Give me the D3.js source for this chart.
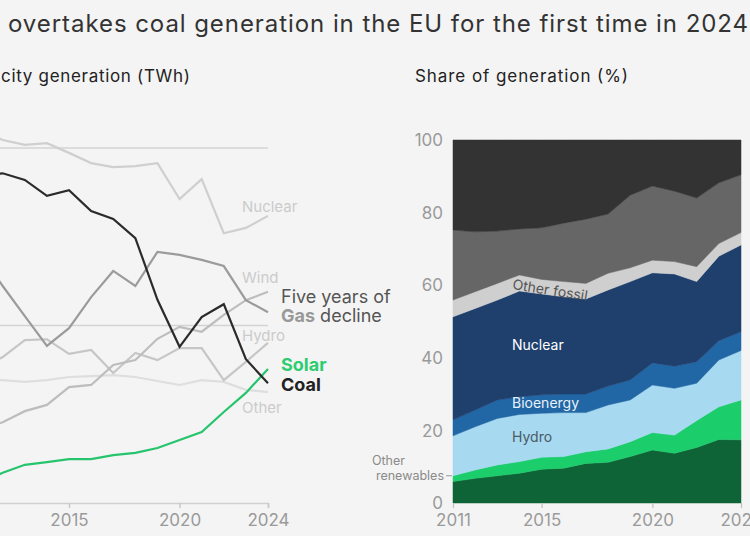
<!DOCTYPE html>
<html>
<head>
<meta charset="utf-8">
<script src="https://cdn.jsdelivr.net/npm/d3@7"></script>
<style>
  html, body { margin: 0; padding: 0; background: #f4f4f4; overflow: hidden; }
  svg { display: block; font-family: Inter, "Noto Sans", sans-serif; }
</style>
</head>
<body>
<svg id="chart" width="750" height="536"></svg>
<script>
// ---------- DATA ----------
const years = [2011, 2012, 2013, 2014, 2015, 2016, 2017, 2018, 2019, 2020, 2021, 2022, 2023, 2024];

// Electricity generation (TWh)
const nuclearTWh = [840, 818, 807, 811, 789, 766, 757, 759, 766, 685, 730, 608, 620, 647];
const coalTWh    = [735, 743, 728, 692, 705, 658, 640, 597, 458, 352, 419, 448, 324, 270];
const gasTWh     = [560, 489, 421, 354, 394, 464, 523, 489, 566, 559, 548, 534, 457, 430];
const windTWh    = [165, 182, 207, 221, 261, 266, 311, 322, 370, 397, 386, 424, 457, 476];
const hydroTWh   = [300, 329, 367, 369, 336, 345, 293, 338, 322, 349, 349, 277, 318, 361];
const otherTWh   = [275, 277, 273, 277, 284, 286, 288, 284, 275, 266, 277, 273, 255, 250];
const solarTWh   = [45, 68, 86, 92, 99, 99, 108, 113, 124, 142, 160, 205, 248, 302];

// Share of generation (%)
const windShare        = [5.9, 6.8, 7.5, 8.2, 9.3, 9.6, 10.9, 11.2, 12.8, 14.6, 13.7, 15.3, 17.5, 17.4];
const solarShare       = [1.6, 2.3, 3.0, 3.2, 3.3, 3.2, 3.2, 3.7, 4.1, 4.8, 5.0, 7.4, 9.0, 11.0];
const hydroShare       = [11.0, 11.9, 12.8, 13.0, 12.1, 12.1, 10.8, 12.1, 11.5, 13.1, 12.9, 10.3, 12.9, 13.6];
const bioShare         = [4.4, 4.6, 5.1, 4.9, 5.1, 5.1, 5.1, 5.2, 5.5, 6.1, 6.1, 5.9, 5.3, 5.2];
const nuclearShare     = [28.4, 28.0, 27.5, 29.1, 27.8, 26.8, 26.2, 26.5, 27.1, 24.8, 25.4, 22.1, 23.3, 23.9];
const otherFossilShare = [4.6, 4.6, 4.6, 4.4, 4.0, 4.2, 4.3, 4.6, 3.8, 3.5, 3.4, 4.1, 3.5, 3.4];
const gasShare         = [19.3, 16.5, 14.4, 12.7, 14.2, 16.1, 17.7, 16.3, 20.0, 20.4, 19.4, 18.9, 16.7, 15.9];
const coalShare        = [24.8, 25.3, 25.1, 24.5, 24.2, 22.9, 21.8, 20.4, 15.2, 12.7, 14.1, 16.0, 11.8, 9.6];

const leftTicks = [2011, 2015, 2020, 2024];
const leftGrid = [400, 800];
const rightYTicks = [0, 20, 40, 60, 80, 100];

const titleHidden = "Solar";
const titleVisible = "overtakes coal generation in the EU for the first time in 2024";
const leftSubHidden = "Electri";
const leftSubVisible = "city generation (TWh)";
const rightSubtitle = "Share of generation (%)";

// ---------- SETUP ----------
const svg = d3.select("#chart");

// Title (its first word falls outside the frame)
svg.append("text")
  .attr("x", 0).attr("y", 32).attr("text-anchor", "end")
  .attr("font-size", 24).attr("fill", "#333")
  .text(titleHidden);
svg.append("text")
  .attr("x", 8).attr("y", 32)
  .attr("font-size", 24).attr("fill", "#333")
  .attr("textLength", 740).attr("lengthAdjust", "spacing")
  .text(titleVisible);

// Subtitles
svg.append("text")
  .attr("x", 0).attr("y", 82).attr("text-anchor", "end")
  .attr("font-size", 17).attr("fill", "#222")
  .text(leftSubHidden);
svg.append("text")
  .attr("x", 1).attr("y", 82)
  .attr("font-size", 17).attr("fill", "#222")
  .attr("textLength", 189).attr("lengthAdjust", "spacing")
  .text(leftSubVisible);

svg.append("text")
  .attr("x", 415).attr("y", 82)
  .attr("font-size", 17).attr("fill", "#222")
  .attr("textLength", 213).attr("lengthAdjust", "spacing")
  .text(rightSubtitle);

// ---------- LEFT CHART ----------
const xL = d3.scaleLinear().domain([2011, 2024]).range([-19.4, 268]);
const yL = d3.scaleLinear().domain([0, 800]).range([503, 148]);

const gL = svg.append("g");

gL.selectAll(".grid").data(leftGrid).join("line")
  .attr("x1", xL(2011)).attr("x2", xL(2024))
  .attr("y1", d => yL(d)).attr("y2", d => yL(d))
  .attr("stroke", "#d4d4d4").attr("stroke-width", 1.5);

const axL = d3.axisBottom(xL).tickValues(leftTicks).tickFormat(d3.format("d")).tickSize(5).tickPadding(6);
const axLg = gL.append("g").attr("transform", `translate(0,${yL(0)})`).call(axL);
axLg.select(".domain").attr("stroke", "#d0d0d0").attr("stroke-width", 1.5);
axLg.selectAll(".tick line").attr("stroke", "#c8c8c8").attr("stroke-width", 1.5);
axLg.selectAll(".tick text").attr("fill", "#9a9a9a").attr("font-size", 17).attr("font-family", "Inter, sans-serif");

const lineSeries = [
  { name: "Other", values: otherTWh, color: "#dedede" },
  { name: "Nuclear", values: nuclearTWh, color: "#cfcfcf" },
  { name: "Hydro", values: hydroTWh, color: "#c6c6c6" },
  { name: "Wind", values: windTWh, color: "#bdbdbd" },
  { name: "Gas", values: gasTWh, color: "#9b9b9b" },
  { name: "Solar", values: solarTWh, color: "#27c46e" },
  { name: "Coal", values: coalTWh, color: "#2b2b2b" }
];

const line = d3.line().x((d, i) => xL(years[i])).y(d => yL(d));

gL.selectAll(".series").data(lineSeries).join("path")
  .attr("d", d => line(d.values))
  .attr("fill", "none")
  .attr("stroke", d => d.color)
  .attr("stroke-width", 2.2)
  .attr("stroke-linejoin", "miter");

const lightLabels = [
  { text: "Nuclear", x: 242, y: 212 },
  { text: "Wind", x: 242, y: 283 },
  { text: "Hydro", x: 242, y: 341 },
  { text: "Other", x: 242, y: 413 }
];
gL.selectAll(".lbl").data(lightLabels).join("text")
  .attr("x", d => d.x).attr("y", d => d.y)
  .attr("font-size", 15).attr("fill", "#cbcbcb")
  .text(d => d.text);

gL.append("text").attr("x", 281).attr("y", 303)
  .attr("font-size", 18).attr("fill", "#555").text("Five years of");
const gasT = gL.append("text").attr("x", 281).attr("y", 322).attr("font-size", 18);
gasT.append("tspan").attr("font-weight", 700).attr("fill", "#999").text("Gas");
gasT.append("tspan").attr("fill", "#555").text(" decline");

gL.append("text").attr("x", 281).attr("y", 371)
  .attr("font-size", 18).attr("font-weight", 700).attr("fill", "#2ecc71").text("Solar");
gL.append("text").attr("x", 281).attr("y", 391)
  .attr("font-size", 18).attr("font-weight", 700).attr("fill", "#222").text("Coal");

// ---------- RIGHT CHART ----------
const xR = d3.scaleLinear().domain([2011, 2024]).range([453, 741]);
const yR = d3.scaleLinear().domain([0, 100]).range([503, 140]);

const keys = ["wind", "solar", "hydro", "bio", "nuclear", "otherFossil", "gas", "coal"];
const colors = {
  wind: "#0e6436",
  solar: "#1ccd6c",
  hydro: "#a7d9f1",
  bio: "#2166a5",
  nuclear: "#1f3f6d",
  otherFossil: "#cfcfcf",
  gas: "#666666",
  coal: "#333333"
};
const shareTable = years.map((y, i) => ({
  year: y,
  wind: windShare[i], solar: solarShare[i], hydro: hydroShare[i], bio: bioShare[i],
  nuclear: nuclearShare[i], otherFossil: otherFossilShare[i], gas: gasShare[i], coal: coalShare[i]
}));
const stacked = d3.stack().keys(keys)(shareTable);

const area = d3.area()
  .x(d => xR(d.data.year))
  .y0(d => yR(d[0]))
  .y1(d => yR(d[1]));

const gR = svg.append("g");
gR.selectAll(".layer").data(stacked).join("path")
  .attr("d", area)
  .attr("fill", d => colors[d.key])
  .attr("stroke", d => colors[d.key])
  .attr("stroke-width", 0.5);

gR.selectAll(".ylab").data(rightYTicks).join("text")
  .attr("x", 443).attr("y", d => yR(d)).attr("dy", "0.36em")
  .attr("text-anchor", "end")
  .attr("font-size", 17).attr("fill", "#9a9a9a")
  .text(d => d);

const axR = d3.axisBottom(xR).tickValues(leftTicks).tickFormat(d3.format("d")).tickSize(5).tickPadding(6);
const axRg = gR.append("g").attr("transform", `translate(0,${yR(0)})`).call(axR);
axRg.select(".domain").remove();
axRg.selectAll(".tick line").attr("stroke", "#c0c0c0").attr("stroke-width", 1.2);
axRg.selectAll(".tick text").attr("fill", "#9a9a9a").attr("font-size", 17).attr("font-family", "Inter, sans-serif");

gR.append("text").attr("x", 512).attr("y", 350).attr("font-size", 14).attr("fill", "#ffffff").text("Nuclear");
gR.append("text").attr("x", 512).attr("y", 408).attr("font-size", 14).attr("fill", "#e8f2fa").text("Bioenergy");
gR.append("text").attr("x", 512).attr("y", 442).attr("font-size", 14).attr("fill", "#4a5a66").text("Hydro");
gR.append("text").attr("x", 512).attr("y", 289).attr("font-size", 14).attr("fill", "#555")
  .attr("transform", "rotate(9,512,289)").text("Other fossil");

const orY = yR(windShare[0] + solarShare[0]);
gR.append("line").attr("x1", 446).attr("x2", 452).attr("y1", orY).attr("y2", orY)
  .attr("stroke", "#999").attr("stroke-width", 1);
const orT = gR.append("text").attr("text-anchor", "end").attr("font-size", 12.5).attr("fill", "#8a8a8a");
orT.append("tspan").attr("x", 405).attr("y", 465).text("Other");
orT.append("tspan").attr("x", 444).attr("y", 480).text("renewables");
</script>
</body>
</html>
